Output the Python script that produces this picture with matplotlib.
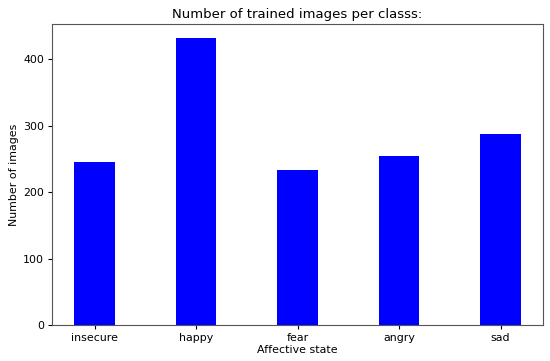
import matplotlib
matplotlib.use("Agg")
import matplotlib.pyplot as plt

categories = ["insecure", "happy", "fear", "angry", "sad"]
counts = [245, 432, 233, 255, 287]

fig = plt.figure(figsize=(5.5, 3.61), dpi=100)
ax = fig.add_axes([0.0945, 0.1, 0.893, 0.834])
ax.bar(categories, counts, color="blue", width=0.4)
ax.set_title("Number of trained images per classs:", fontsize=9.5, pad=4.5)
ax.set_xlabel("Affective state", fontsize=7.9, labelpad=2)
ax.set_ylabel("Number of images", fontsize=7.9, labelpad=3)
ax.tick_params(labelsize=7.9, length=2.8, pad=2.8)
for s in ax.spines.values():
    s.set_color("#555555")
fig.savefig("out.png", dpi=100)
